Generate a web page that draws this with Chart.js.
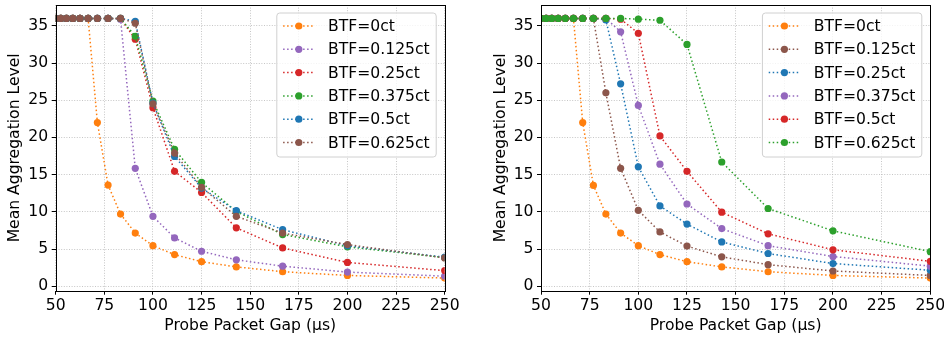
<!DOCTYPE html>
<html>
<head>
<meta charset="utf-8">
<script src="https://cdn.jsdelivr.net/npm/chart.js@4.4.1/dist/chart.umd.min.js"></script>
<style>
  html, body { margin: 0; padding: 0; background: #fff; }
  #wrap { position: relative; width: 944px; height: 340px; }
  .pane { position: absolute; top: 0; width: 472px; height: 340px; }
</style>
</head>
<body>
<div id="wrap">
  <div class="pane" style="left:0"><canvas id="left" width="472" height="340"></canvas></div>
  <div class="pane" style="left:472px"><canvas id="right" width="472" height="340"></canvas></div>
</div>
<script>
// probe packet gaps (us)
const gaps = [50, 52.63, 55.56, 58.82, 62.5, 66.67, 71.43, 76.92, 83.33, 90.91, 100, 111.11, 125, 142.86, 166.67, 200, 250];
const xTicks = [50, 75, 100, 125, 150, 175, 200, 225, 250];
const yTicks = [0, 5, 10, 15, 20, 25, 30, 35];

// left panel
const leftLabels = ['BTF=0ct', 'BTF=0.125ct', 'BTF=0.25ct', 'BTF=0.375ct', 'BTF=0.5ct', 'BTF=0.625ct'];
const leftBtf0    = [36, 36, 36, 36, 36, 36, 22.0, 13.6, 9.7, 7.15, 5.45, 4.25, 3.3, 2.6, 1.95, 1.45, 1.1];
const leftBtf0125 = [36, 36, 36, 36, 36, 36, 36, 36, 35.9, 15.85, 9.4, 6.5, 4.7, 3.55, 2.7, 1.9, 1.35];
const leftBtf025  = [36, 36, 36, 36, 36, 36, 36, 36, 36, 33.2, 24.0, 15.45, 12.6, 7.85, 5.15, 3.2, 2.1];
const leftBtf0375 = [36, 36, 36, 36, 36, 36, 36, 36, 36, 33.6, 24.9, 18.4, 13.95, 10.05, 6.95, 5.3, 3.85];
const leftBtf05   = [36, 36, 36, 36, 36, 36, 36, 36, 36, 35.6, 24.6, 17.45, 13.2, 10.15, 7.6, 5.45, 3.9];
const leftBtf0625 = [36, 36, 36, 36, 36, 36, 36, 36, 36, 35.35, 24.5, 17.9, 13.3, 9.4, 7.15, 5.6, 3.8];

// right panel
const rightLabels = ['BTF=0ct', 'BTF=0.125ct', 'BTF=0.25ct', 'BTF=0.375ct', 'BTF=0.5ct', 'BTF=0.625ct'];
const rightBtf0    = [36, 36, 36, 36, 36, 36, 22.0, 13.55, 9.7, 7.15, 5.45, 4.25, 3.3, 2.6, 1.95, 1.45, 1.1];
const rightBtf0125 = [36, 36, 36, 36, 36, 36, 36, 36, 26.0, 15.85, 10.2, 7.3, 5.4, 3.95, 2.9, 2.05, 1.45];
const rightBtf025  = [36, 36, 36, 36, 36, 36, 36, 36, 35.8, 27.2, 16.05, 10.8, 8.35, 5.95, 4.4, 3.05, 2.15];
const rightBtf0375 = [36, 36, 36, 36, 36, 36, 36, 36, 36, 34.2, 24.3, 16.4, 11.05, 7.75, 5.45, 4.0, 2.7];
const rightBtf05   = [36, 36, 36, 36, 36, 36, 36, 36, 36, 35.9, 34.0, 20.2, 15.45, 9.95, 7.05, 4.9, 3.35];
const rightBtf0625 = [36, 36, 36, 36, 36, 36, 36, 36, 36, 36, 35.9, 35.75, 32.5, 16.7, 10.45, 7.45, 4.65];

const C = {
  blue: '#1f77b4', orange: '#ff7f0e', green: '#2ca02c',
  red: '#d62728', purple: '#9467bd', brown: '#8c564b'
};
const leftColors = [C.orange, C.purple, C.red, C.green, C.blue, C.brown];
const rightColors = [C.orange, C.brown, C.blue, C.purple, C.red, C.green];

const FONT_SIZE = 15.6;
Chart.defaults.font.family = '"DejaVu Sans", sans-serif';
Chart.defaults.font.size = FONT_SIZE;
Chart.defaults.color = '#000';

// black box round the plot area
const framePlugin = {
  id: 'frame',
  afterDatasetsDraw(chart) {
    const a = chart.chartArea, ctx = chart.ctx;
    ctx.save();
    ctx.strokeStyle = '#000';
    ctx.lineWidth = 1;
    ctx.strokeRect(Math.round(a.left) + 0.5, Math.round(a.top) + 0.5,
                   Math.round(a.right - a.left), Math.round(a.bottom - a.top));
    ctx.restore();
  }
};

// matplotlib-like legend: dotted line + marker, upper right
const boxLegend = {
  id: 'boxLegend',
  afterDraw(chart) {
    const a = chart.chartArea, ctx = chart.ctx;
    const sets = chart.data.datasets;
    ctx.save();
    ctx.font = FONT_SIZE + 'px "DejaVu Sans", sans-serif';
    let tw = 0;
    sets.forEach(d => { tw = Math.max(tw, ctx.measureText(d.label).width); });
    const rowH = 23.3;
    const w = 51.3 + tw + 6.5;
    const h = 144;
    const right = a.right - 8.5;
    const left = right - w;
    const top = a.top + 8;
    ctx.beginPath();
    ctx.roundRect(left, top, w, h, 3);
    ctx.fillStyle = 'rgba(255,255,255,0.8)';
    ctx.fill();
    ctx.strokeStyle = '#d0d0d0';
    ctx.lineWidth = 1;
    ctx.stroke();
    sets.forEach((d, i) => {
      const cy = top + 13 + i * rowH;
      ctx.strokeStyle = d.borderColor;
      ctx.lineWidth = 1.5;
      ctx.setLineDash([1.5, 2.5]);
      ctx.beginPath();
      ctx.moveTo(left + 6.3, cy);
      ctx.lineTo(left + 38, cy);
      ctx.stroke();
      ctx.setLineDash([]);
      ctx.fillStyle = d.borderColor;
      ctx.beginPath();
      ctx.arc(left + 22, cy, 3.6, 0, Math.PI * 2);
      ctx.fill();
      ctx.fillStyle = '#000';
      ctx.textBaseline = 'middle';
      ctx.fillText(d.label, left + 51.3, cy + 1);
    });
    ctx.restore();
  }
};

function makeChart(id, labels, series, colors, axisWidth, titlePad, rightPad) {
  const datasets = series.map((vals, i) => ({
    label: labels[i],
    data: gaps.map((g, j) => ({ x: g, y: vals[j] })),
    borderColor: colors[i],
    backgroundColor: colors[i],
    borderWidth: 1.5,
    borderDash: [1.5, 2.5],
    pointRadius: 3.6,
    pointBorderWidth: 0,
    pointBackgroundColor: colors[i],
    tension: 0,
    order: -i
  }));
  return new Chart(document.getElementById(id), {
    type: 'line',
    data: { datasets },
    options: {
      responsive: false,
      animation: false,
      events: [],
      layout: { padding: { left: 0, right: rightPad, top: 5, bottom: 0 } },
      plugins: { legend: { display: false }, tooltip: { enabled: false } },
      scales: {
        x: {
          type: 'linear',
          min: 50,
          max: 250,
          afterBuildTicks: s => { s.ticks = xTicks.map(v => ({ value: v })); },
          afterFit: s => { s.height = 49.3; s.paddingLeft = 0; s.paddingRight = 0; },
          ticks: { padding: 2, maxRotation: 0, autoSkip: false },
          grid: { color: '#b8b8b8', lineWidth: 0.8, tickColor: '#000', tickLength: 4, tickWidth: 1, tickBorderDash: [] },
          border: { display: false, dash: [1, 1.6] },
          title: { display: true, text: 'Probe Packet Gap (μs)', padding: { top: 0, bottom: 5 } }
        },
        y: {
          type: 'linear',
          min: -0.6,
          max: 37.8,
          afterBuildTicks: s => { s.ticks = yTicks.map(v => ({ value: v })); },
          afterFit: s => { s.width = axisWidth; s.paddingTop = 0; s.paddingBottom = 0; },
          ticks: { padding: 3.5 },
          grid: { color: '#b8b8b8', lineWidth: 0.8, tickColor: '#000', tickLength: 4, tickWidth: 1, tickBorderDash: [] },
          border: { display: false, dash: [1, 1.6] },
          title: { display: true, text: 'Mean Aggregation Level', padding: { top: titlePad, bottom: 0 } }
        }
      }
    },
    plugins: [framePlugin, boxLegend]
  });
}

makeChart('left', leftLabels,
  [leftBtf0, leftBtf0125, leftBtf025, leftBtf0375, leftBtf05, leftBtf0625],
  leftColors, 55.7, 6, 27.3);
makeChart('right', rightLabels,
  [rightBtf0, rightBtf0125, rightBtf025, rightBtf0375, rightBtf05, rightBtf0625],
  rightColors, 69, 19.5, 13.7);
</script>
</body>
</html>
